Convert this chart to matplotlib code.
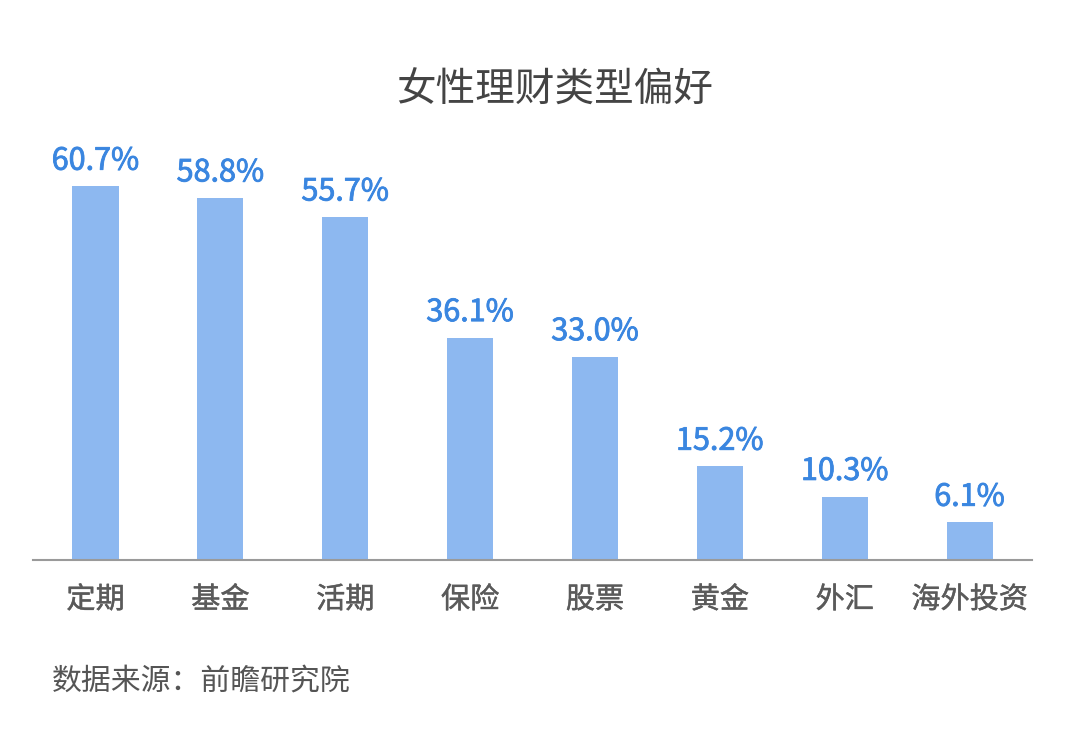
import matplotlib
matplotlib.use("Agg")
import matplotlib.pyplot as plt
import matplotlib.patheffects as pe

plt.rcParams['font.family'] = ['Noto Sans CJK SC', 'DejaVu Sans']

# data
categories = ['定期', '基金', '活期', '保险', '股票', '黄金', '外汇', '海外投资']
values = [60.7, 58.8, 55.7, 36.1, 33.0, 15.2, 10.3, 6.1]
title = '女性理财类型偏好'
source = '数据来源：前瞻研究院'

bar_color = '#8db8f0'
label_color = '#3a86e0'
text_color = '#555555'

# slightly heavier strokes to mimic the medium weight in the original
heavy = lambda c, w: [pe.withStroke(linewidth=w, foreground=c)]

fig = plt.figure(figsize=(10.8, 7.48), dpi=100)
ax = fig.add_axes([0.0306, 0.2513, 0.925, 0.576])

x = range(len(categories))
bars = ax.bar(x, values, width=0.37, color=bar_color)

for xi, v in zip(x, values):
    ax.annotate(f'{v:.1f}%', (xi, v), xytext=(0, 7), textcoords='offset points',
                ha='center', va='bottom', fontsize=22, color=label_color,
                path_effects=heavy(label_color, 0.6))

ax.set_xlim(-0.5, len(categories) - 0.5)
ax.set_ylim(0, 70)
ax.set_xticks(list(x))
ax.set_xticklabels(categories, fontsize=21, color='#5a5a5a')
for t in ax.get_xticklabels():
    t.set_path_effects(heavy('#5a5a5a', 0.3))
ax.tick_params(axis='x', length=0, pad=18)
ax.set_yticks([])
for side in ['top', 'right', 'left']:
    ax.spines[side].set_visible(False)
ax.spines['bottom'].set_color('#9a9a9a')
ax.spines['bottom'].set_linewidth(1.5)

fig.text(0.514, 0.879, title, ha='center', va='center', fontsize=28.5, color='#444444')
fig.text(0.048, 0.09, source, ha='left', va='center', fontsize=21.5, color=text_color)

fig.savefig('out.png', dpi=100, facecolor='white')
